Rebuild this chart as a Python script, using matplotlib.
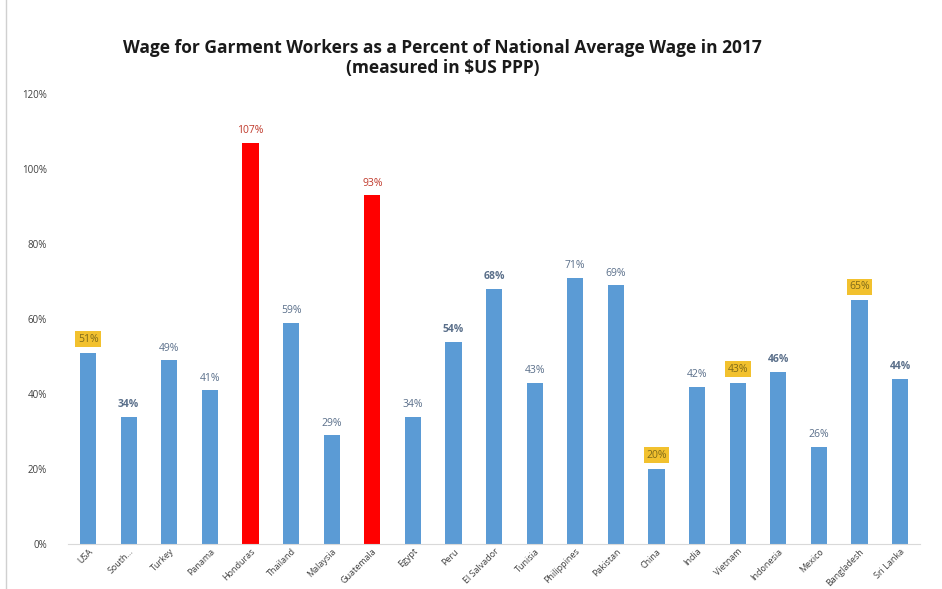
import numpy as np
import matplotlib
matplotlib.use("Agg")
import matplotlib.pyplot as plt
from matplotlib.lines import Line2D

countries = ["USA", "South...", "Turkey", "Panama", "Honduras", "Thailand", "Malaysia",
             "Guatemala", "Egypt", "Peru", "El Salvador", "Tunisia", "Philippines",
             "Pakistan", "China", "India", "Vietnam", "Indonesia", "Mexico",
             "Bangladesh", "Sri Lanka"]
wages = [51, 34, 49, 41, 107, 59, 29, 93, 34, 54, 68, 43, 71, 69, 20, 42, 43, 46, 26, 65, 44]
red_bars = ["Honduras", "Guatemala"]
boxed = ["USA", "China", "Vietnam", "Bangladesh"]
bold_labels = ["South...", "Peru", "El Salvador", "Indonesia", "Sri Lanka"]

plt.rcParams['font.family'] = ['Open Sans', 'DejaVu Sans']

fig = plt.figure(figsize=(9.42, 5.89), dpi=100)
ax = fig.add_axes([0.072, 0.0764, 0.905, 0.7636])

x = np.arange(len(countries))
colors = ['#ff0000' if c in red_bars else '#5b9bd5' for c in countries]
ax.bar(x, wages, width=0.4, color=colors)

for i, (c, v) in enumerate(zip(countries, wages)):
    col = '#c0392b' if c in red_bars else '#5a6f8a'
    kw = dict(ha='center', va='bottom', fontsize=7.5, color=col)
    if c in bold_labels:
        kw['fontweight'] = 'bold'
    if c in boxed:
        kw['color'] = '#7f6a1a'
        kw['bbox'] = dict(boxstyle='square,pad=0.25', fc='#f2c12e', ec='none')
        ax.text(i, v + 2.2, f"{v}%", **kw)
    else:
        ax.text(i, v + 1.8, f"{v}%", **kw)

ax.set_xlim(-0.5, len(countries) - 0.5)
ax.set_ylim(0, 120)
ax.set_yticks(np.arange(0, 121, 20))
ax.set_yticklabels([f"{t}%" for t in range(0, 121, 20)], fontsize=7, color='#404040')
ax.set_xticks(x)
ax.set_xticklabels(countries, rotation=45, ha='right', rotation_mode='anchor',
                   fontsize=6.5, color='#404040')
ax.tick_params(axis='x', length=0, pad=2)
ax.tick_params(axis='y', length=0, pad=15)
for s in ['top', 'right', 'left']:
    ax.spines[s].set_visible(False)
ax.spines['bottom'].set_color('#d9d9d9')

fig.text(0.470, 0.918, "Wage for Garment Workers as a Percent of National Average Wage in 2017",
         ha='center', va='center', fontsize=12.5, fontweight='bold', color='#1a1a1a')
fig.text(0.470, 0.884, "(measured in $US PPP)",
         ha='center', va='center', fontsize=12.5, fontweight='bold', color='#1a1a1a')

fig.add_artist(Line2D([0.006, 0.006], [0.0, 1.0], transform=fig.transFigure,
                      color='#d0d0d0', lw=1))

fig.savefig("out.png", dpi=100)
